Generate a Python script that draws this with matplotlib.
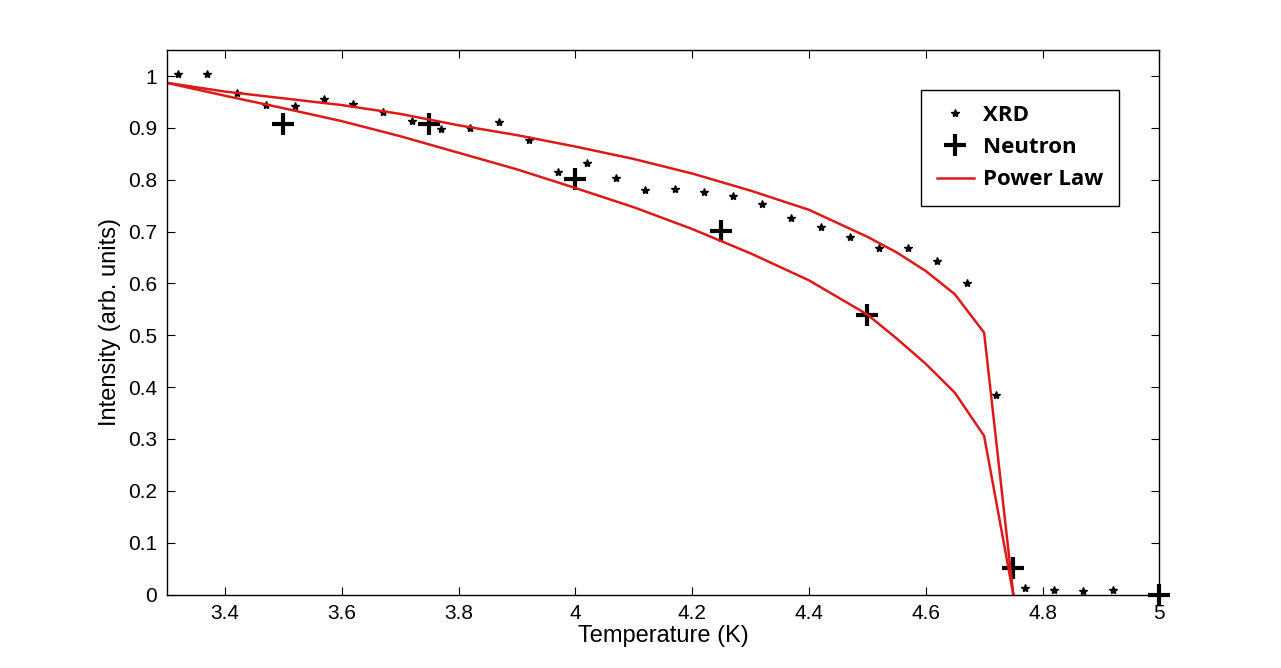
import matplotlib
matplotlib.use("Agg")
import matplotlib.pyplot as plt

plt.rcParams['font.family'] = ['Liberation Sans', 'DejaVu Sans']

# XRD data
xrd_t = [3.32, 3.37, 3.42, 3.47, 3.52, 3.57, 3.62, 3.67, 3.72, 3.77, 3.82,
         3.87, 3.92, 3.97, 4.02, 4.07, 4.12, 4.17, 4.22, 4.27, 4.32, 4.37,
         4.42, 4.47, 4.52, 4.57, 4.62, 4.67, 4.72, 4.77, 4.82, 4.87, 4.92]
xrd_i = [1.004, 1.004, 0.967, 0.944, 0.942, 0.955, 0.947, 0.930, 0.914,
         0.897, 0.899, 0.911, 0.877, 0.815, 0.832, 0.803, 0.780, 0.783,
         0.776, 0.769, 0.753, 0.726, 0.709, 0.690, 0.668, 0.668, 0.644,
         0.601, 0.384, 0.012, 0.008, 0.006, 0.009]

# neutron data
neu_t = [3.5, 3.75, 4.0, 4.25, 4.5, 4.75, 5.0]
neu_i = [0.908, 0.908, 0.802, 0.702, 0.540, 0.052, 0.0]

# power law fits (two curves)
fit_t = [3.3, 3.4, 3.5, 3.6, 3.7, 3.8, 3.9, 4.0, 4.1, 4.2, 4.3, 4.4,
         4.5, 4.55, 4.6, 4.65, 4.7, 4.75]
fit_upper = [0.987, 0.970, 0.957, 0.944, 0.927, 0.905, 0.886, 0.864,
             0.840, 0.812, 0.779, 0.742, 0.690, 0.660, 0.624, 0.579,
             0.505, 0.0]
fit_lower = [0.987, 0.962, 0.938, 0.913, 0.884, 0.852, 0.820, 0.784,
             0.747, 0.705, 0.658, 0.606, 0.540, 0.494, 0.445, 0.389,
             0.306, 0.0]

fig = plt.figure(figsize=(12.81, 6.68), dpi=100)
ax = fig.add_axes([0.13, 0.11, 0.775, 0.815])

red = '#dd1a1a'
ax.plot(xrd_t, xrd_i, linestyle='none', marker='*', markersize=6,
        color='black', label='XRD')
ax.plot(neu_t, neu_i, linestyle='none', marker='+', markersize=16,
        markeredgewidth=3, color='black', label='Neutron', clip_on=False)
ax.plot(fit_t, fit_upper, color=red, linewidth=1.8, label='Power Law')
ax.plot(fit_t, fit_lower, color=red, linewidth=1.8)

ax.set_xlim(3.3, 5.0)
ax.set_ylim(0, 1.05)
xt = [3.4, 3.6, 3.8, 4.0, 4.2, 4.4, 4.6, 4.8, 5.0]
ax.set_xticks(xt)
ax.set_xticklabels(['%g' % v for v in xt])
yt = [0, 0.1, 0.2, 0.3, 0.4, 0.5, 0.6, 0.7, 0.8, 0.9, 1.0]
ax.set_yticks(yt)
ax.set_yticklabels(['%g' % v for v in yt])
ax.tick_params(direction='in', length=6, width=0.8, labelsize=15,
               top=True, right=True, pad=7)
for s in ax.spines.values():
    s.set_linewidth(1.0)

ax.set_xlabel('Temperature (K)', fontsize=17, labelpad=1)
ax.set_ylabel('Intensity (arb. units)', fontsize=17, labelpad=5)

leg = ax.legend(loc='upper left', bbox_to_anchor=(0.719, 0.866),
                bbox_transform=fig.transFigure, fancybox=False,
                edgecolor='black', framealpha=1, borderaxespad=0,
                prop={'family': 'Open Sans', 'weight': 'bold', 'size': 16},
                handlelength=1.7, handletextpad=0.4, borderpad=0.7,
                labelspacing=0.5)
leg.get_frame().set_linewidth(1.0)

fig.savefig('out.png', dpi=100, facecolor='white')
